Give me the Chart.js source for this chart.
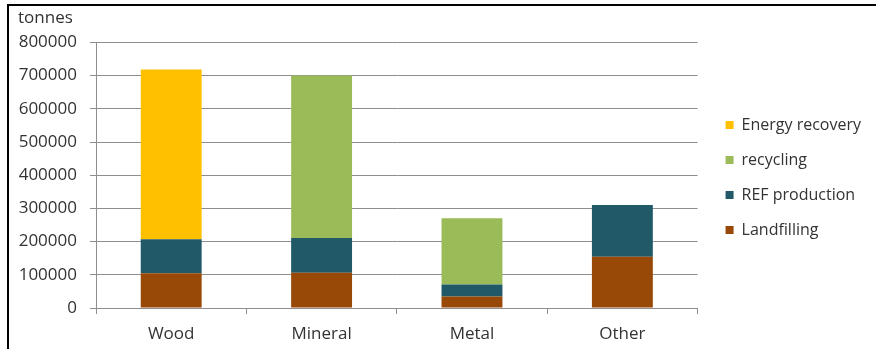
<!DOCTYPE html>
<html>
<head>
<meta charset="utf-8">
<script src="https://cdn.jsdelivr.net/npm/chart.js@4"></script>
<style>
  html, body { margin: 0; padding: 0; background: #fff; }
  #frame {
    position: absolute; left: 7px; top: 4px;
    width: 867px; height: 343px;
    border-top: 2px solid #000; border-left: 2px solid #000;
  }
  #chart { display: block; }
</style>
</head>
<body>
<div id="frame"><canvas id="chart" width="867" height="343"></canvas></div>
<script>
// Waste streams (tonnes) by material and treatment route
const categories = ['Wood', 'Mineral', 'Metal', 'Other'];
const landfilling    = [105000, 106000, 35000, 154000];
const refProduction  = [102000, 105000, 36000, 156000];
const recycling      = [null, 489000, 199000, null];
const energyRecovery = [511000, null, null, null];
const yTicks = [0, 100000, 200000, 300000, 400000, 500000, 600000, 700000, 800000];

const FONT = '"Open Sans", sans-serif';
const GRID = '#8e8e8e';

// leave a small gap between the plot area and the legend
const legendGap = {
  id: 'legendGap',
  afterLayout(chart) {
    const lg = chart.legend;
    if (lg) { lg.left += 9; lg.right += 9; }
  }
};

new Chart(document.getElementById('chart'), {
  type: 'bar',
  data: {
    labels: categories,
    datasets: [
      { label: 'Landfilling', data: landfilling, backgroundColor: '#984807' },
      { label: 'REF production', data: refProduction, backgroundColor: '#215968' },
      { label: 'recycling', data: recycling, backgroundColor: '#9bbb59' },
      { label: 'Energy recovery', data: energyRecovery, backgroundColor: '#ffc000' }
    ]
  },
  plugins: [legendGap],
  options: {
    responsive: false,
    animation: false,
    layout: { padding: { left: 9, right: 14, top: 0, bottom: 0 } },
    datasets: { bar: { categoryPercentage: 1, barPercentage: 0.405, borderWidth: 0 } },
    plugins: {
      title: {
        display: true, text: 'tonnes', align: 'start', color: '#333',
        font: { family: FONT, size: 17, weight: 'normal' },
        padding: { top: 2, bottom: 14 }
      },
      legend: {
        position: 'right', reverse: true,
        labels: {
          boxWidth: 8, boxHeight: 8, padding: 19, color: '#333',
          font: { family: FONT, size: 16 }
        }
      },
      tooltip: { enabled: false }
    },
    scales: {
      x: {
        stacked: true,
        grid: { drawOnChartArea: false, drawTicks: true, tickLength: 6, color: GRID, offset: true },
        border: { display: true, color: GRID },
        ticks: { color: '#333', padding: 10, font: { family: FONT, size: 17 } },
        afterFit: s => { s.height = 41; }
      },
      y: {
        stacked: true, min: 0, max: 800000,
        afterBuildTicks: s => { s.ticks = yTicks.map(v => ({ value: v })); },
        grid: { color: GRID, tickLength: 6, drawTicks: true },
        border: { display: true, color: GRID },
        ticks: { color: '#333', padding: 13, font: { family: FONT, size: 17 }, callback: v => String(v) },
        afterFit: s => { s.width = 78; }
      }
    }
  }
});
</script>
</body>
</html>
